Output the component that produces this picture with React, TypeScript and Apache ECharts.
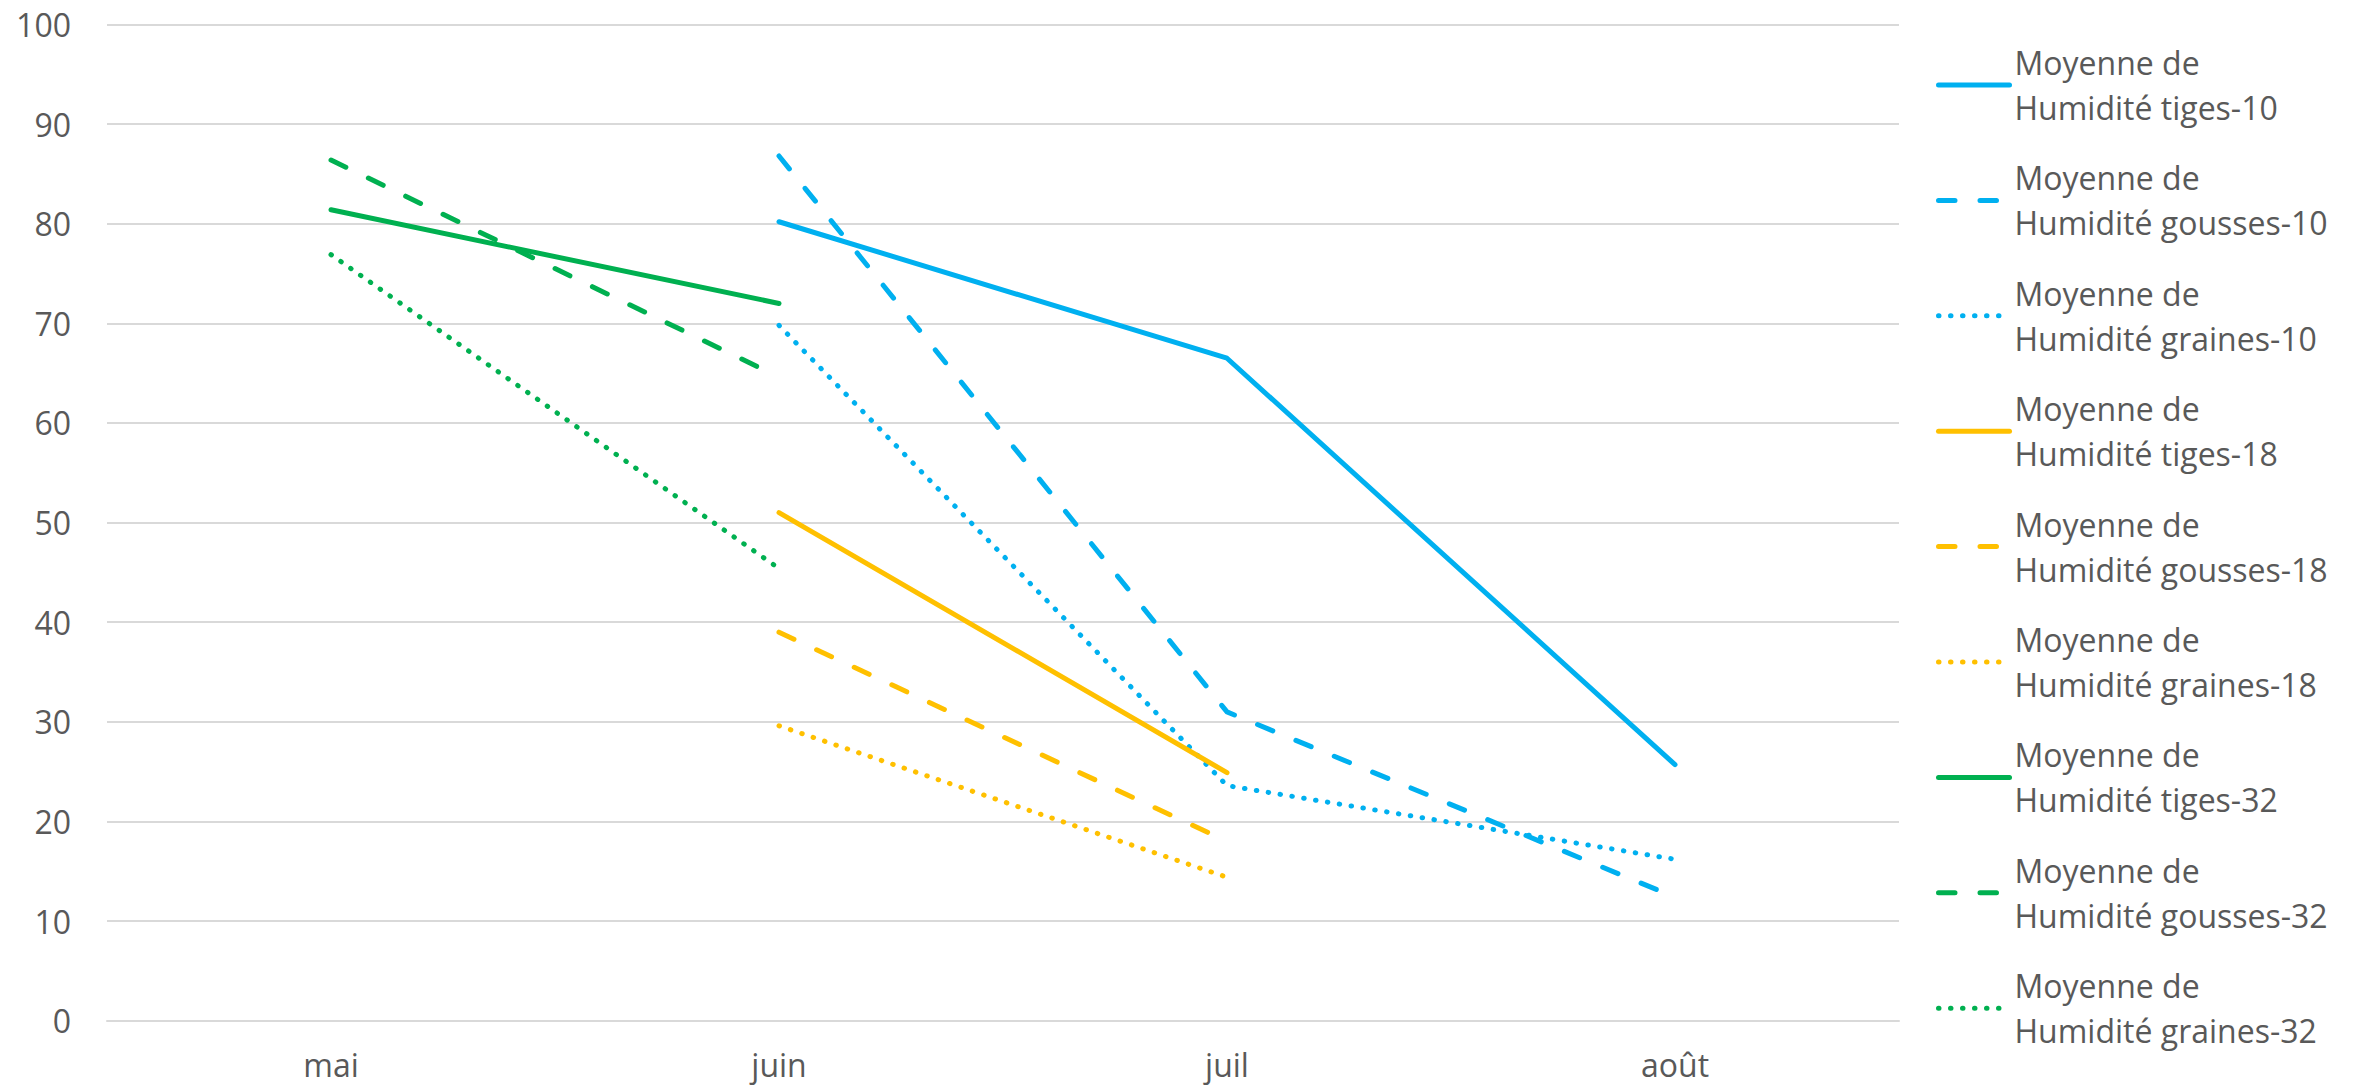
import React, { useEffect, useRef } from 'react';
import * as echarts from 'echarts';

const categories = ['mai', 'juin', 'juil', 'août'];

const seriesNames = [
  'Moyenne de Humidité tiges-10',
  'Moyenne de Humidité gousses-10',
  'Moyenne de Humidité graines-10',
  'Moyenne de Humidité tiges-18',
  'Moyenne de Humidité gousses-18',
  'Moyenne de Humidité graines-18',
  'Moyenne de Humidité tiges-32',
  'Moyenne de Humidité gousses-32',
  'Moyenne de Humidité graines-32',
];

const tiges10 = [null, 80.2, 66.5, 25.7];
const gousses10 = [null, 86.8, 31.0, 12.4];
const graines10 = [null, 69.8, 23.6, 16.2];
const tiges18 = [null, 51.0, 24.9, null];
const gousses18 = [null, 39.0, 18.0, null];
const graines18 = [null, 29.6, 14.4, null];
const tiges32 = [81.4, 72.0, null, null];
const gousses32 = [86.4, 64.6, null, null];
const graines32 = [76.9, 45.4, null, null];

const seriesValues = [tiges10, gousses10, graines10, tiges18, gousses18, graines18, tiges32, gousses32, graines32];

const yMin = 0;
const yMax = 100;
const yInterval = 10;

// styles
const BLUE = '#00B0F0';
const YELLOW = '#FFC000';
const GREEN = '#00B050';
const seriesColors = [BLUE, BLUE, BLUE, YELLOW, YELLOW, YELLOW, GREEN, GREEN, GREEN];
const DASH = [16.5, 25];
const DOT = [0.5, 11.5];
const seriesDash: any[] = ['solid', DASH, DOT, 'solid', DASH, DOT, 'solid', DASH, DOT];

const FONT = 'Open Sans';
const TEXT = '#595959';
const GRID = '#D9D9D9';
const LINE_W = 5;

export default function App() {
  const ref = useRef<HTMLDivElement>(null);
  useEffect(() => {
    if (!ref.current) return;
    const chart = echarts.init(ref.current, null, { renderer: 'svg' });
    chart.setOption({
      animation: false,
      backgroundColor: '#ffffff',
      grid: { left: 107, right: 460, top: 24.5, bottom: 67.3, containLabel: false },
      xAxis: {
        type: 'category',
        data: categories,
        boundaryGap: true,
        axisLine: { show: true, lineStyle: { color: GRID, width: 2 } },
        axisTick: { show: false },
        axisLabel: { color: TEXT, fontSize: 32, fontFamily: FONT, margin: 28 },
        splitLine: { show: false },
      },
      yAxis: {
        type: 'value',
        min: yMin,
        max: yMax,
        interval: yInterval,
        axisLine: { show: false },
        axisTick: { show: false },
        axisLabel: { color: TEXT, fontSize: 32, fontFamily: FONT, margin: 36 },
        splitLine: { show: true, lineStyle: { color: GRID, width: 2 } },
      },
      legend: {
        orient: 'vertical',
        left: 1936,
        top: 17.5,
        padding: 0,
        itemWidth: 71,
        itemHeight: 14,
        itemGap: -19.6,
        itemStyle: { color: 'rgba(0,0,0,0)', opacity: 0, borderWidth: 0 },
        lineStyle: { width: LINE_W },
        textStyle: {
          color: TEXT,
          fontSize: 32,
          fontFamily: FONT,
          lineHeight: 45,
          padding: [45, 0, 0, 0],
        },
        formatter: (name: string) => name.replace('Moyenne de ', 'Moyenne de\n'),
        data: seriesNames,
      },
      series: seriesNames.map((name, i) => ({
        name,
        type: 'line',
        data: seriesValues[i],
        symbol: 'none',
        showSymbol: false,
        connectNulls: false,
        color: seriesColors[i],
        itemStyle: { color: seriesColors[i] },
        lineStyle: {
          color: seriesColors[i],
          width: LINE_W,
          type: seriesDash[i],
          cap: 'round',
          join: 'round',
        },
        emphasis: { disabled: true },
      })),
    });
    return () => chart.dispose();
  }, []);
  return (
    <div
      ref={ref}
      style={{ position: 'fixed', left: 0, top: 0, width: 2359, height: 1088, background: '#fff' }}
    />
  );
}
